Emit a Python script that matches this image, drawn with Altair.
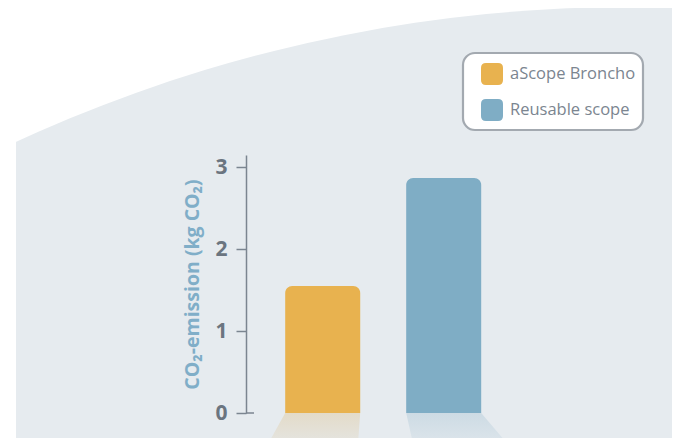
import math
import altair as alt
import pandas as pd

# ---- data ----
names = ["aScope Broncho", "Reusable scope"]
values = [1.55, 2.87]
y_ticks = [0, 1, 2, 3]
axis_title = "CO₂-emission (kg CO₂)"

# ---- styles ----
colors = ["#E8B24F", "#7FADC5"]
reflect_colors = ["#E3DBC9", "#CDDBE4"]
BG = "#E6EBEF"
AXIS = "#7B8590"
LABEL = "#6B7580"
FONT = "Open Sans"
HALF = 0.31  # half bar width in x units
# reflection skew: x-units per y-unit depth (left edge, right edge)
skews = [(-0.376, -0.05), (0.151, 0.578)]
DEPTH = 0.6

idx = list(range(len(names)))
bars_df = pd.DataFrame({"name": names, "value": values, "i": idx})

refl_rows = []
for i, n in enumerate(names):
    for d in (0.0, DEPTH):
        refl_rows.append({"name": n, "i": i, "d": d,
                          "sl": skews[i][0], "sr": skews[i][1]})
refl_df = pd.DataFrame(refl_rows)

x_scale = alt.Scale(domain=[-0.634, 2.887], nice=False, zero=False)
y_scale = alt.Scale(domain=[0, 3.15], nice=False, zero=False)
y_axis = alt.Axis(values=y_ticks, title=axis_title, format="d", zindex=2,
                  domainColor=AXIS, domainWidth=1.5,
                  tickColor=AXIS, tickWidth=1.5, tickSize=10,
                  labelFont=FONT, labelFontSize=21, labelFontWeight="bold",
                  labelColor=LABEL, labelPadding=9,
                  titleFont=FONT, titleFontSize=19.5, titleFontWeight="bold",
                  titleColor="#80AEC8", titlePadding=12, grid=False)

one = pd.DataFrame({"a": [0]})

# background shape
bg = alt.Chart(one).mark_arc(
    radius=1465, theta=0, theta2=2 * math.pi, color=BG
).encode(x=alt.value(384), y=alt.value(1317))

strip = alt.Chart(one).mark_rect(color="white").encode(
    x=alt.value(-240), x2=alt.value(-230), y=alt.value(-200), y2=alt.value(400)
)

# legend box
legend_box = alt.Chart(one).mark_rect(
    fill="white", stroke="#A3A9B0", strokeWidth=2.2, cornerRadius=12
).encode(x=alt.value(217), x2=alt.value(397), y=alt.value(-102), y2=alt.value(-25))

refl_layers = []
for i, n in enumerate(names):
    grad = alt.Gradient(
        gradient="linear",
        stops=[alt.GradientStop(color=reflect_colors[i], offset=0),
               alt.GradientStop(color=BG, offset=1)],
        x1=0, x2=0, y1=0, y2=1,
    )
    layer = alt.Chart(refl_df).transform_filter(
        alt.datum.name == n
    ).transform_calculate(
        ry="-datum.d",
        rx1=f"datum.i - {HALF} + datum.sl * datum.d",
        rx2=f"datum.i + {HALF} + datum.sr * datum.d",
    ).mark_area(orient="horizontal", color=grad, opacity=1).encode(
        y=alt.Y("ry:Q", scale=y_scale, axis=y_axis),
        x=alt.X("rx1:Q", scale=x_scale, axis=None),
        x2="rx2:Q",
    )
    refl_layers.append(layer)

symbol_path = ("M -0.55 -1 L 0.55 -1 Q 1 -1 1 -0.55 L 1 0.55 Q 1 1 0.55 1 "
               "L -0.55 1 Q -1 1 -1 0.55 L -1 -0.55 Q -1 -1 -0.55 -1 Z")

bars = alt.Chart(bars_df).transform_calculate(
    x1=f"datum.i - {HALF}", x2=f"datum.i + {HALF}"
).mark_bar(cornerRadiusTopLeft=7, cornerRadiusTopRight=7).encode(
    x=alt.X("x1:Q", scale=x_scale, axis=None),
    x2="x2:Q",
    y=alt.Y("value:Q", scale=y_scale, axis=y_axis),
    y2=alt.datum(0),
    color=alt.Color("name:N", scale=alt.Scale(domain=names, range=colors),
                    legend=alt.Legend(title=None, orient="none", legendX=217, legendY=-101,
                                      symbolType=symbol_path, symbolSize=484,
                                      symbolStrokeWidth=0, symbolOpacity=1,
                                      symbolOffset=9,
                                      labelFont=FONT, labelFontSize=16.5, labelColor=AXIS,
                                      labelOffset=7, rowPadding=14, padding=9)),
)

stub = alt.Chart(one).mark_rule(color=AXIS, strokeWidth=1.5).encode(
    y=alt.datum(0), x=alt.value(0), x2=alt.value(8)
)

chart = alt.layer(bg, strip, legend_box, *refl_layers, bars, stub).properties(
    width=426, height=258,
    autosize=alt.AutoSizeParams(type="none"),
    padding={"left": 238, "top": 147, "right": 0, "bottom": 40},
).configure_view(strokeWidth=0).configure(background="white")

chart.save("out.html", embed_options={"renderer": "svg", "actions": False})
